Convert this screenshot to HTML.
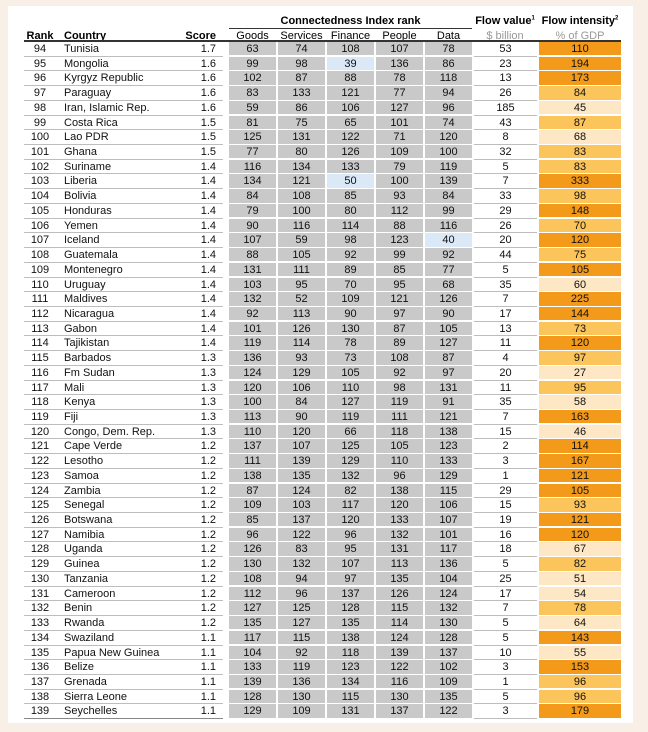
<!DOCTYPE html>
<html><head><meta charset="utf-8">
<style>
body{margin:0;background:#f8efe7;width:648px;height:732px;overflow:hidden;font-family:"Liberation Sans",Arial,sans-serif;}
#p{position:absolute;left:8px;top:6px;width:625px;height:717px;background:#fff;}
.c{position:absolute;font-size:11px;line-height:14.7px;height:14.7px;box-sizing:border-box;color:#111;white-space:nowrap}
.h{position:absolute;font-size:11px;white-space:nowrap}
</style></head><body>
<div id="p"></div>
<div id="t"></div>
<script>
const D=`94|Tunisia|1.7|63|74|108|107|78|53|110
95|Mongolia|1.6|99|98|39|136|86|23|194
96|Kyrgyz Republic|1.6|102|87|88|78|118|13|173
97|Paraguay|1.6|83|133|121|77|94|26|84
98|Iran, Islamic Rep.|1.6|59|86|106|127|96|185|45
99|Costa Rica|1.5|81|75|65|101|74|43|87
100|Lao PDR|1.5|125|131|122|71|120|8|68
101|Ghana|1.5|77|80|126|109|100|32|83
102|Suriname|1.4|116|134|133|79|119|5|83
103|Liberia|1.4|134|121|50|100|139|7|333
104|Bolivia|1.4|84|108|85|93|84|33|98
105|Honduras|1.4|79|100|80|112|99|29|148
106|Yemen|1.4|90|116|114|88|116|26|70
107|Iceland|1.4|107|59|98|123|40|20|120
108|Guatemala|1.4|88|105|92|99|92|44|75
109|Montenegro|1.4|131|111|89|85|77|5|105
110|Uruguay|1.4|103|95|70|95|68|35|60
111|Maldives|1.4|132|52|109|121|126|7|225
112|Nicaragua|1.4|92|113|90|97|90|17|144
113|Gabon|1.4|101|126|130|87|105|13|73
114|Tajikistan|1.4|119|114|78|89|127|11|120
115|Barbados|1.3|136|93|73|108|87|4|97
116|Fm Sudan|1.3|124|129|105|92|97|20|27
117|Mali|1.3|120|106|110|98|131|11|95
118|Kenya|1.3|100|84|127|119|91|35|58
119|Fiji|1.3|113|90|119|111|121|7|163
120|Congo, Dem. Rep.|1.3|110|120|66|118|138|15|46
121|Cape Verde|1.2|137|107|125|105|123|2|114
122|Lesotho|1.2|111|139|129|110|133|3|167
123|Samoa|1.2|138|135|132|96|129|1|121
124|Zambia|1.2|87|124|82|138|115|29|105
125|Senegal|1.2|109|103|117|120|106|15|93
126|Botswana|1.2|85|137|120|133|107|19|121
127|Namibia|1.2|96|122|96|132|101|16|120
128|Uganda|1.2|126|83|95|131|117|18|67
129|Guinea|1.2|130|132|107|113|136|5|82
130|Tanzania|1.2|108|94|97|135|104|25|51
131|Cameroon|1.2|112|96|137|126|124|17|54
132|Benin|1.2|127|125|128|115|132|7|78
133|Rwanda|1.2|135|127|135|114|130|5|64
134|Swaziland|1.1|117|115|138|124|128|5|143
135|Papua New Guinea|1.1|104|92|118|139|137|10|55
136|Belize|1.1|133|119|123|122|102|3|153
137|Grenada|1.1|139|136|134|116|109|1|96
138|Sierra Leone|1.1|128|130|115|130|135|5|96
139|Seychelles|1.1|129|109|131|137|122|3|179`.split("\n").map(r=>r.split("|"));
const blue={"95-5":1,"103-5":1,"107-7":1};
let h='';
const top0=41,rh=14.72;
const gx=[229,278,327,376,425],gw=47;
h+=`<div class="h" style="left:229px;top:15px;width:243px;text-align:center;font-weight:bold;">Connectedness Index rank</div>`;
h+=`<div style="position:absolute;left:229px;top:28px;width:243px;height:1px;background:#333"></div>`;
h+=`<div class="h" style="left:473px;top:15px;width:64px;text-align:center;font-weight:bold;">Flow value<sup style="font-size:6px">1</sup></div>`;
h+=`<div class="h" style="left:536px;top:15px;width:88px;text-align:center;font-weight:bold;">Flow intensity<sup style="font-size:6px">2</sup></div>`;
const hy=29.5;
h+=`<div class="h" style="left:24px;top:${hy}px;width:32px;text-align:center;font-weight:bold">Rank</div>`;
h+=`<div class="h" style="left:64px;top:${hy}px;font-weight:bold">Country</div>`;
h+=`<div class="h" style="left:170px;top:${hy}px;width:46px;text-align:right;font-weight:bold">Score</div>`;
["Goods","Services","Finance","People","Data"].forEach((s,i)=>h+=`<div class="h" style="left:${gx[i]-2}px;top:${hy}px;width:${gw+4}px;text-align:center">${s}</div>`);
h+=`<div class="h" style="left:473px;top:${hy}px;width:64px;text-align:center;color:#999">$ billion</div>`;
h+=`<div class="h" style="left:539px;top:${hy}px;width:82px;text-align:center;color:#999">% of GDP</div>`;
h+=`<div style="position:absolute;left:24px;top:${top0-1}px;width:597px;height:2px;background:#333"></div>`;
D.forEach((r,i)=>{
 const y=top0+1+i*rh;
 const st=`top:${y.toFixed(2)}px;`;
 h+=`<div style="position:absolute;left:24px;top:${(y+rh-1).toFixed(2)}px;width:199px;height:1px;background:#bdbdbd"></div>`;
 h+=`<div style="position:absolute;left:474px;top:${(y+rh-1).toFixed(2)}px;width:63px;height:1px;background:#bdbdbd"></div>`;
 h+=`<div class="c" style="${st}left:24px;width:32px;text-align:center">${r[0]}</div>`;
 h+=`<div class="c" style="${st}left:64px">${r[1]}</div>`;
 h+=`<div class="c" style="${st}left:170px;width:46px;text-align:right">${r[2]}</div>`;
 for(let k=0;k<5;k++){
  const bg=blue[r[0]+"-"+(k+3)]?"#dbe9f6":"#c9c9c9";
  h+=`<div class="c" style="${st}left:${gx[k]}px;width:${gw}px;height:${rh-1.3}px;background:${bg};text-align:center">${r[k+3]}</div>`;
 }
 h+=`<div class="c" style="${st}left:474px;width:63px;text-align:center">${r[8]}</div>`;
 const v=+r[9];const bg=v>=100?"#f39a1a":v>=70?"#fcc55c":"#fde7c4";
 h+=`<div class="c" style="${st}left:539px;width:82px;height:${rh-1.3}px;background:${bg};text-align:center">${r[9]}</div>`;
});
h+=`<div style="position:absolute;left:24px;top:${(top0+1+46*rh-1).toFixed(2)}px;width:199px;height:1px;background:#888"></div>`;
document.getElementById('t').innerHTML=h;
</script>
</body></html>
